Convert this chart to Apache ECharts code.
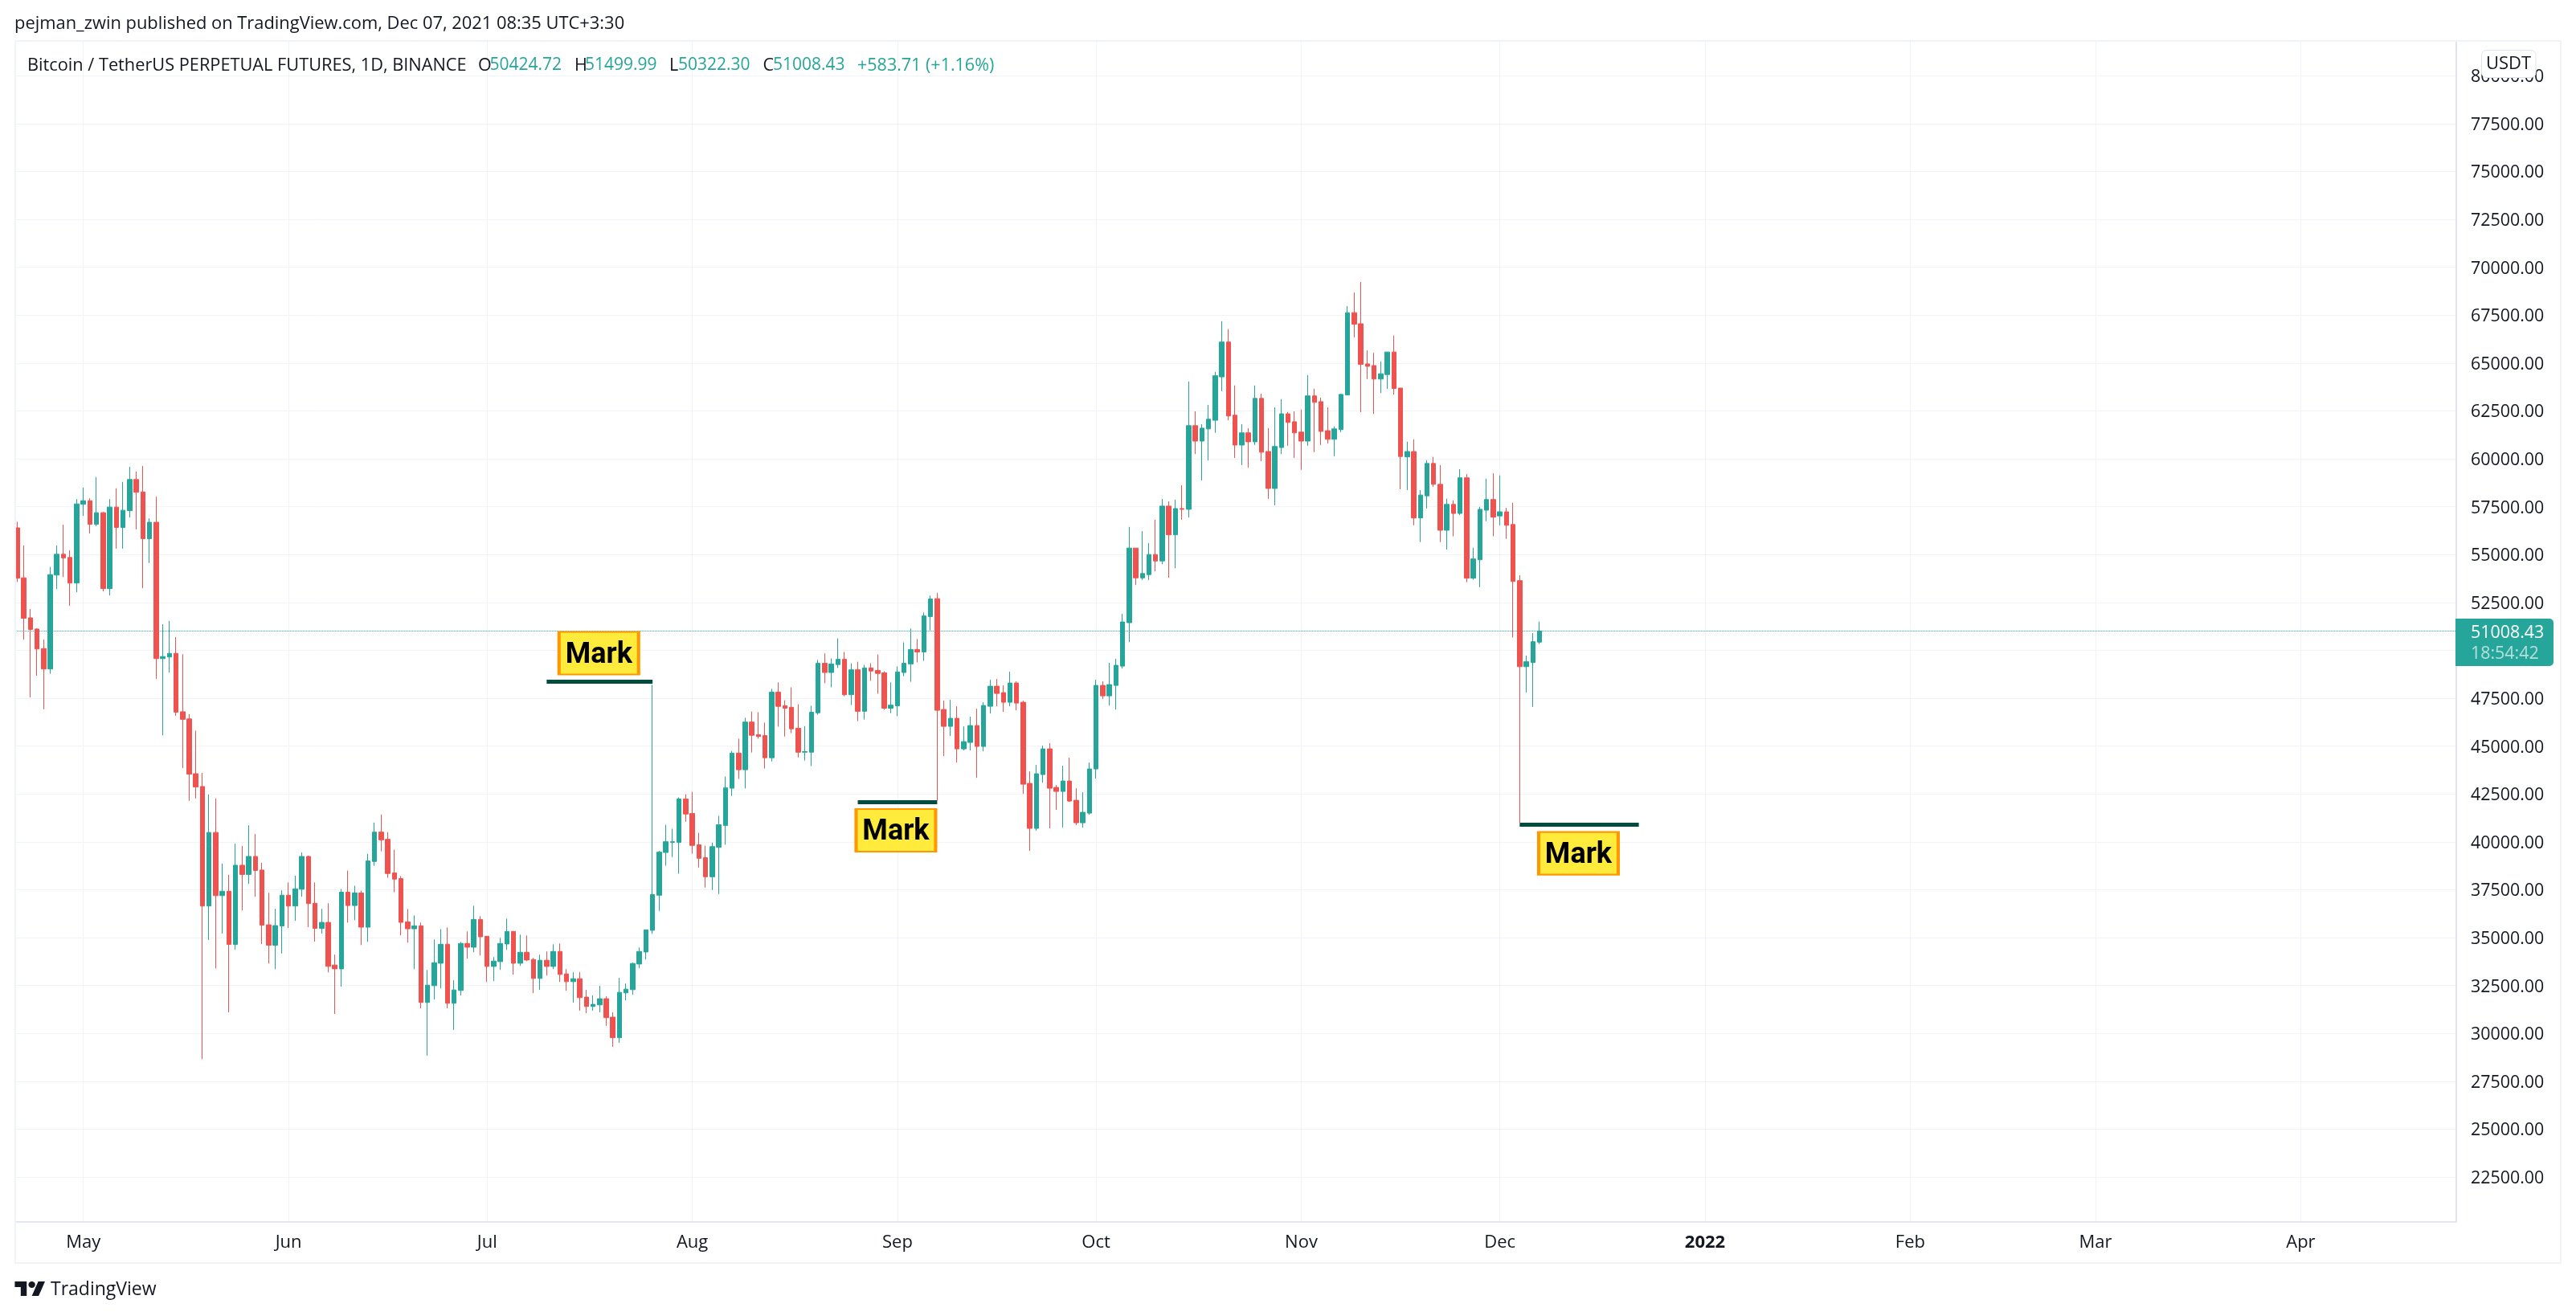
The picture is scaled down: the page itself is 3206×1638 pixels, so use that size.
<!DOCTYPE html>
<html><head><meta charset="utf-8">
<style>html,body{margin:0;padding:0;background:#fff}#c{width:3206px;height:1638px}</style>
<script src="https://cdn.jsdelivr.net/npm/echarts@6/dist/echarts.min.js"></script>
</head><body><div id="c"></div>
<script>
// Daily BTC/USDT values from 2021-04-21 to 2021-12-07
const opens = [56391,53783,51696,51111,50089,49024,53929,55014,54847,53511,
57623,57810,56579,57184,53219,57477,56412,57289,58917,58270,
55828,56683,49567,49650,49838,46791,46416,43556,42888,36648,
40489,37191,37420,34645,38777,38297,39236,38527,35667,34603,
35605,37212,36648,37525,39236,36794,35480,35792,33565,33369,
37370,36673,37328,35544,38973,40507,40130,38374,38081,35823,
35460,35614,31613,32491,33662,34652,31571,32240,34694,34498,
35948,35070,33495,33746,34666,35321,33662,34234,33857,32867,
33816,33495,34276,33105,32700,32854,31892,31404,31487,31808,
30846,29773,32115,32282,33620,34248,35377,37211,39444,39974,
39974,42238,41483,39845,39171,38175,39716,40857,42800,44631,
43764,46253,45595,45546,44390,47811,47104,47024,45932,44679,
44679,46735,49320,48839,49256,49529,47682,48983,46815,49080,
48951,48823,46976,47104,48839,49288,50043,49915,51762,52696,
46908,46027,46447,44853,45189,46069,44979,47076,48124,47789,
47285,48292,47285,43050,40701,43511,44853,42840,42630,43175,
42169,40995,41498,43805,48166,47621,48166,49173,51440,55338,
53782,53951,55000,54663,57530,56031,57399,57361,61728,60922,
61559,62009,64276,66094,62271,60716,61353,60885,63152,60379,
58448,60585,62346,61934,61391,60922,63283,62983,61466,61016,
61522,63327,67626,67048,64952,64867,64161,64396,65573,63690,
60097,60375,56909,58065,59754,58663,56268,57616,57145,59006,
53765,54727,57316,57872,57016,57230,56567,53637,49145,49359,
50424.72];
const closes = [53762,51675,51090,50068,49024,53950,55014,54826,53511,57644,
57810,56579,57184,53219,57477,56412,57310,58917,58249,55828,
56683,49567,49671,49838,46770,46395,43535,42867,36648,40489,
37191,37420,34645,38777,38297,39236,38506,35646,34603,35626,
37212,36648,37546,39236,36773,35480,35792,33497,33369,37370,
36673,37328,35544,39001,40507,40102,38346,38053,35795,35460,
35614,31613,32519,33690,34652,31571,32268,34694,34498,35948,
35042,33495,33774,34694,35321,33662,34234,33829,32867,33816,
33495,34276,33077,32700,32854,31864,31404,31515,31808,30818,
29773,32142,32310,33648,34276,35405,37245,39460,40006,40006,
42238,41451,39813,39139,38175,39749,40889,42816,44631,43764,
46253,45562,45498,44390,47811,47072,46976,45900,44679,44711,
46767,49320,48839,49288,49529,47682,48983,46815,49080,48919,
48791,46976,47136,48871,49320,50043,49915,51794,52677,46866,
46027,46447,44853,45231,46069,44979,47118,48124,47747,47285,
48292,47244,43007,40701,43553,44853,42798,42630,43175,42127,
40995,41540,43805,48166,47621,48208,49215,51480,55338,53782,
54007,55000,54663,57530,56031,57399,57361,61728,60922,61597,
62065,64333,66094,62234,60716,61353,60885,63152,60341,58448,
60641,62346,61896,61353,60922,63283,62946,61428,61016,61559,
63358,67626,67027,64931,64824,64161,64439,65573,63669,60118,
60375,56909,58107,59754,58663,56268,57616,57145,59006,53765,
54771,57359,57872,56952,57230,56525,53594,49145,49402,50449,
51008.43];
const lows = [53574,50548,47543,48669,46916,48774,53198,53824,52322,53031,
57017,56099,56475,53073,52864,55306,55306,56934,56308,53240,
54555,48502,45560,48836,46582,43849,42137,42262,28655,34875,
33392,35208,31097,34374,36419,37796,37129,34666,33643,33351,
34165,35501,35876,37129,35542,34791,35208,33184,31013,32435,
35781,35906,34610,34777,38750,39503,38123,37370,35112,34735,
33355,31306,28839,31766,32352,31306,30177,31975,33899,34234,
34066,32686,32728,33314,34359,33063,33523,33774,32101,32268,
33021,33355,32686,32226,31599,31181,31055,31181,31097,30386,
29299,29508,31724,32017,33397,33857,35196,36392,38753,39203,
38336,41050,39379,38657,37613,37484,37276,39845,42399,43282,
42784,44663,45386,43828,44197,46012,45498,45675,44406,44246,
43956,46638,48277,48068,49080,47602,47136,46301,46382,48405,
47731,46895,46719,46558,48646,48357,49369,49449,51039,42141,
44476,45524,44140,44769,44769,43343,44727,46698,47076,46782,
47076,46866,42504,39527,40575,43092,40701,41665,40743,42085,
40868,40743,41414,43301,47453,47118,46908,49047,50428,53407,
53670,53670,54119,54494,53782,54288,56818,56930,60247,58861,
59910,61353,63527,62009,60041,59667,59535,60716,59873,57905,
57568,60247,60678,60041,59423,60678,60341,60716,60791,60135,
61391,63327,66343,62428,64161,62343,63434,63647,63348,58407,
58364,56525,55648,57402,58535,55648,55262,55947,57059,53551,
53680,53295,56738,55947,56525,55819,50663,40932,47797,47049,
50322.30];
const highs = [56704,55473,52155,51153,50569,54346,55473,56558,55223,57894,
58499,57936,59042,57226,57894,58457,58791,59584,59334,59626,
56892,58019,51362,51529,50694,49796,46666,45810,43598,42471,
42262,38860,38277,39904,39779,40864,40405,38902,37337,36502,
37463,37880,38235,39445,39278,37880,36502,36794,34108,37537,
38499,37705,37454,39377,41008,41427,40507,39587,38207,36492,
36157,35781,33314,34903,35446,35530,32770,34777,35321,36659,
36115,35070,33983,34986,35990,35321,35154,35112,33941,34108,
34276,34652,34694,33355,33188,33188,32268,31975,32477,31933,
31097,32895,32603,33690,34484,35405,48196,39524,40889,40680,
42318,42479,42607,40471,39797,39958,41355,43410,44743,45386,
46478,46799,46767,46221,47988,48325,47393,48068,47185,46044,
47104,49497,49834,49577,50621,49915,49321,49401,49240,49321,
49786,48903,48325,49160,50413,51135,50589,51970,52854,52989,
47369,47411,47076,46027,46531,46950,47285,48460,48502,48166,
48879,48376,47369,43679,44014,45021,45147,42966,43972,44392,
42798,42588,44140,48460,48376,49341,49550,51899,56443,55338,
56218,55600,56818,57905,57774,57867,58617,64033,62477,61803,
62815,64539,67181,66769,63827,61803,61597,63827,63396,61597,
62684,63115,62440,62477,62571,64370,63658,63190,62684,61690,
63396,67968,68674,69230,65658,65530,65081,65573,66428,63690,
60888,61016,58364,59926,60097,59669,57915,57829,59455,59198,
55348,57487,58963,59241,59134,57444,57701,53915,49722,50899,
51499.99];

const firstDay = Date.UTC(2021, 3, 21);
const dayCount = 369;
const categories = [];
for (let i = 0; i < dayCount; i++) categories.push(new Date(firstDay + i * 864e5).toISOString().slice(0, 10));
const monthNames = {'2021-05':'May','2021-06':'Jun','2021-07':'Jul','2021-08':'Aug','2021-09':'Sep','2021-10':'Oct','2021-11':'Nov','2021-12':'Dec','2022-01':'2022','2022-02':'Feb','2022-03':'Mar','2022-04':'Apr'};

const lastPrice = 51008.43;
const markLevels = [
  {from:'2021-07-10', to:'2021-07-26', price:48367},
  {from:'2021-08-26', to:'2021-09-07', price:42087},
  {from:'2021-12-04', to:'2021-12-22', price:40912}
];
const markLabels = [
  {day:'2021-07-18', price:49848, text:'Mark', dx:-1},
  {day:'2021-09-01', price:40600, text:'Mark', dx:-2},
  {day:'2021-12-13', price:39403, text:'Mark', dx:-1}
];

const titleText = 'pejman_zwin published on TradingView.com, Dec 07, 2021 08:35 UTC+3:30';
const symbolText = 'Bitcoin / TetherUS PERPETUAL FUTURES, 1D, BINANCE';
const ohlcText = [['O','50424.72',595,609.5],['H','51499.99',715,728],['L','50322.30',833,844],['C','51008.43',949.4,962]];
const changeText = '+583.71 (+1.16%)';
const currency = 'USDT';
const priceTag = '51008.43';
const countdown = '18:54:42';
const brand = 'TradingView';

const up = '#26a69a', down = '#ef5350', ink = '#131722', gridC = '#f0f3fa', axisC = '#e0e3eb';
const font = '"Open Sans", sans-serif';
const isMonthStart = (i, v) => v.endsWith('-01');

function txt(x, y, text, fill, size) {
  return {type:'text', x, y, z:120, silent:true,
    style:{text, fill, font:(size||22)+'px '+font, textVerticalAlign:'middle', textAlign:'left'}};
}
const logoTransform = {x:18.4, y:1591, scaleX:1.06, scaleY:1, z:120, silent:true};
const graphics = [
  {type:'rect', z:110, silent:true, shape:{x:0,y:40,width:18.5,height:1540}, style:{fill:'#fff'}},
  {type:'rect', z:110, silent:true, shape:{x:19,y:1521.8,width:3039,height:4}, style:{fill:'#fff'}},
  {type:'rect', z:111, silent:true, shape:{x:19,y:51,width:3168,height:1521}, style:{fill:'none',stroke:gridC,lineWidth:2}},
  {type:'rect', z:115, silent:true, shape:{x:3056,y:770,width:122,height:59,r:[0,5,5,0]}, style:{fill:up}},
  {type:'rect', z:115, silent:true, shape:{x:3088.5,y:62.5,width:67.5,height:34,r:6}, style:{fill:'#fff',stroke:axisC,lineWidth:1}},
  {type:'text', x:3122, y:80, z:120, silent:true, style:{text:currency,fill:ink,font:'22px '+font,textAlign:'center',textVerticalAlign:'middle'}},
  txt(3075, 788, priceTag, '#fff', 21.4),
  txt(3075, 813.5, countdown, 'rgba(255,255,255,0.65)', 21.4),
  txt(18, 30, titleText, ink, 21.9),
  txt(34, 81.5, symbolText, ink, 21.75),
  txt(1067, 81.5, changeText, up, 21.5),
  Object.assign({type:'polygon', shape:{points:[[0,4],[14,4],[14,22],[7,22],[7,11],[0,11]]}, style:{fill:ink}}, logoTransform),
  Object.assign({type:'polygon', shape:{points:[[27.5,4],[35.5,4],[28,22],[20,22]]}, style:{fill:ink}}, logoTransform),
  Object.assign({type:'circle', shape:{cx:20,cy:8,r:4}, style:{fill:ink}}, logoTransform),
  txt(63, 1605, brand, ink, 23)
];
ohlcText.forEach(r => { graphics.push(txt(r[2],81.5,r[0],ink,21.5)); graphics.push(txt(r[3],81.5,r[1],up,21)); });

const chart = echarts.init(document.getElementById('c'), null, {renderer:'canvas', width:3206, height:1638});
chart.setOption({
  animation:false,
  backgroundColor:'#fff',
  textStyle:{fontFamily:font},
  grid:{left:17.2, top:51, width:3039.8, height:1473.6, containLabel:false},
  xAxis:{type:'category', data:categories, boundaryGap:true, offset:-3.9,
    axisLine:{lineStyle:{color:axisC,width:2}}, axisTick:{show:false},
    splitLine:{show:true, alignWithLabel:true, interval:isMonthStart, lineStyle:{color:gridC,width:1}},
    axisLabel:{interval:isMonthStart, margin:15, color:ink, fontSize:22, fontFamily:font,
      hideOverlap:false,
      formatter:v => { const k=monthNames[v.slice(0,7)]; return k==='2022' ? '{b|2022}' : (k||''); },
      rich:{b:{fontWeight:'bold',fontSize:22,color:ink,fontFamily:font}}}},
  yAxis:{type:'value', position:'right', min:20000, max:81812, interval:2500,
    axisLine:{show:true,lineStyle:{color:axisC,width:2}}, axisTick:{show:false},
    splitLine:{show:true,lineStyle:{color:gridC,width:1}},
    axisLabel:{margin:18, color:ink, fontSize:21.4, fontFamily:font, showMinLabel:false, showMaxLabel:false,
      formatter:v => v % 2500 === 0 ? '{p|' + v.toFixed(2) + '}' : '',
      rich:{p:{padding:[4,0,0,0],fontSize:21.4,color:ink,fontFamily:font}}}},
  series:[{
    type:'candlestick', barWidth:6, clip:true, z:3,
    data:opens.map((o,i)=>[o,closes[i],lows[i],highs[i]]),
    itemStyle:{color:up,color0:down,borderColor:up,borderColor0:down,borderWidth:1},
    markLine:{silent:true, symbol:'none', animation:false, z:2, label:{show:false},
      data:[{yAxis:lastPrice, lineStyle:{color:up,type:'dotted',width:1}}].concat(
        markLevels.map(m=>[{coord:[m.from,m.price],lineStyle:{color:'#004d40',width:5,type:'solid'}},{coord:[m.to,m.price]}]))},
    markPoint:{silent:true, animation:false, symbol:'rect', z:6,
      data:markLabels.map(m=>({coord:[m.day,m.price], symbolSize:[99,53], symbolOffset:[m.dx,0],
        itemStyle:{color:'#ffeb3b',borderColor:'#ff9800',borderWidth:3},
        label:{show:true,formatter:m.text,position:'inside',offset:[0,3],color:'#000',fontFamily:'Roboto',fontWeight:'bold',fontSize:36}}))}
  }],
  graphic:{elements:graphics}
});
</script></body></html>
